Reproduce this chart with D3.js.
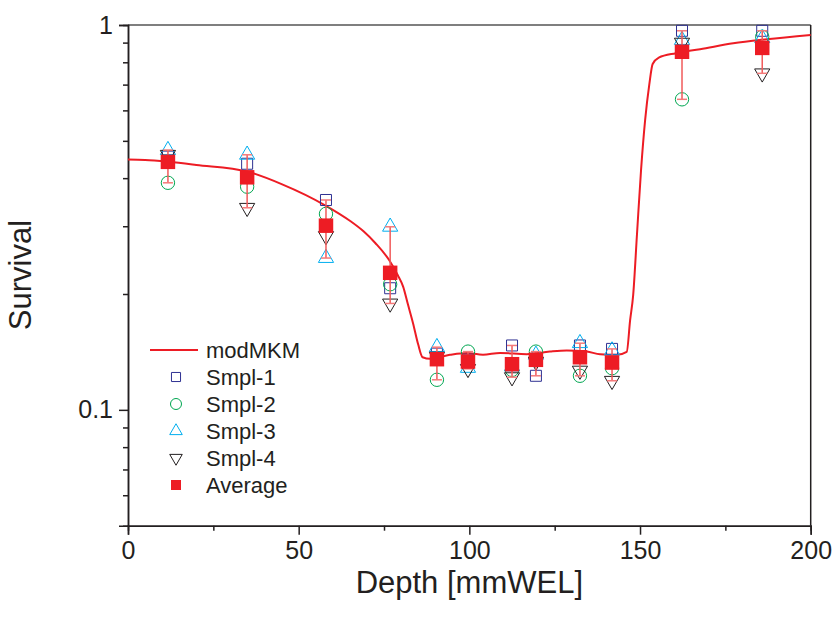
<!DOCTYPE html>
<html>
<head>
<meta charset="utf-8">
<script src="https://cdn.jsdelivr.net/npm/d3@7"></script>
<style>
  body { margin: 0; background: #fff; }
  text { font-family: "Liberation Sans", Arial, sans-serif; fill: #231f20; }
</style>
</head>
<body>
<div id="chart-area"></div>
<script>
var depth   = [11.7, 34.9, 58, 76.8, 90.5, 99.6, 112.5, 119.5, 132.4, 141.8, 162.3, 185.8];
var smpl1   = [0.455, 0.436, 0.351, 0.207, 0.140, 0.135, 0.147, 0.1226, 0.147, 0.144, 0.966, 0.966];
var smpl2   = [0.389, 0.380, 0.323, 0.212, 0.1197, 0.1417, 0.127, 0.1417, 0.1226, 0.1283, 0.641, 0.932];
var smpl3   = [0.473, 0.460, 0.248, 0.299, 0.1455, 0.1285, 0.1296, 0.139, 0.149, 0.1426, 0.914, 0.924];
var smpl4   = [0.460, 0.335, 0.283, 0.189, 0.1375, 0.1278, 0.1216, 0.1335, 0.1265, 0.119, 0.900, 0.749];
var average = [0.441, 0.402, 0.301, 0.227, 0.1354, 0.1335, 0.1314, 0.1349, 0.137, 0.1327, 0.852, 0.872];

// modMKM model curve
var modDepth = [0, 5, 12, 20, 35, 45, 58, 65, 69, 72.5, 76.5, 79, 80.6, 82, 83.5, 85, 86.3, 88.5, 94.3, 99.2,
	104, 109, 116.8, 123.6, 128.5, 134.4, 138.3, 143.2, 146.1, 147.1, 148, 149.1, 150.3, 151.5, 152.7,
	153.7, 155.5, 160.5, 167.6, 177.3, 187.1, 200];
var modSurv = [0.447, 0.446, 0.441, 0.433, 0.416, 0.386, 0.339, 0.31, 0.291, 0.271, 0.245, 0.224, 0.209, 0.188,
	0.168, 0.148, 0.137, 0.1357, 0.139, 0.1406, 0.139, 0.1406, 0.1395, 0.1417, 0.1426, 0.1417, 0.1395,
	0.139, 0.1415, 0.171, 0.199, 0.285, 0.42, 0.567, 0.699, 0.792, 0.823, 0.845, 0.865, 0.896, 0.918, 0.942];

var xMajor = [0, 50, 100, 150, 200];
var xMinor = [25, 75, 125, 175];
var yMajor = [1, 0.1];
var yMinor = [0.9, 0.8, 0.7, 0.6, 0.5, 0.4, 0.3, 0.2, 0.09, 0.08, 0.07, 0.06];

var margin = {left:128, right:23.3, top:25, bottom:93.3};
var width = 834 - margin.left - margin.right;
var height = 619 - margin.top - margin.bottom;

var svg = d3.select("#chart-area")
	.append("svg")
		.attr("width", 834)
		.attr("height", 619);

var g = svg.append("g")
	.attr("transform", "translate(" + margin.left + "," + margin.top + ")");

var x = d3.scaleLinear()
	.domain([0, 200])
	.range([0, width]);

var y = d3.scaleLog()
	.domain([0.05, 1])
	.range([height, 0]);

// frame: top and right
g.append("line")
	.attr("x1", 0).attr("x2", width)
	.attr("y1", 0).attr("y2", 0)
	.attr("stroke", "#555").attr("stroke-width", 1.5);
g.append("line")
	.attr("x1", width).attr("x2", width)
	.attr("y1", 0).attr("y2", height)
	.attr("stroke", "#231f20").attr("stroke-width", 1.5);

// axes
var xAxisCall = d3.axisBottom(x).tickValues(xMajor).tickSize(9).tickPadding(7);
var xAxis = g.append("g")
	.attr("class", "x axis")
	.attr("transform", "translate(0," + height + ")")
	.call(xAxisCall);

var xMinorCall = d3.axisBottom(x).tickValues(xMinor).tickSize(5).tickFormat("");
g.append("g")
	.attr("class", "x minor")
	.attr("transform", "translate(0," + height + ")")
	.call(xMinorCall);

var yAxisCall = d3.axisLeft(y).tickValues(yMajor).tickSize(9).tickPadding(6)
	.tickFormat(function(d){ return d == 1 ? "1" : "0.1"; });
var yAxis = g.append("g")
	.attr("class", "y axis")
	.call(yAxisCall);

var yMinorCall = d3.axisLeft(y).tickValues(yMinor).tickSize(5).tickFormat("");
g.append("g")
	.attr("class", "y minor")
	.call(yMinorCall);

g.selectAll(".axis path, .minor path")
	.attr("stroke", "#231f20").attr("stroke-width", 1.5);
g.selectAll(".axis line, .minor line")
	.attr("stroke", "#231f20").attr("stroke-width", 1.5);
g.selectAll(".axis text")
	.attr("font-size", "25px")
	.attr("font-family", "'Liberation Sans', Arial, sans-serif")
	.attr("fill", "#231f20");

// axis titles
g.append("text")
	.attr("x", width / 2)
	.attr("y", height + 67)
	.attr("font-size", "31px")
	.attr("text-anchor", "middle")
	.text("Depth [mmWEL]");

g.append("text")
	.attr("x", -(275 - margin.top))
	.attr("y", -97)
	.attr("font-size", "31px")
	.attr("text-anchor", "middle")
	.attr("transform", "rotate(-90)")
	.text("Survival");

// model curve
var line = d3.line()
	.x(function(d, i){ return x(modDepth[i]); })
	.y(function(d){ return y(d); })
	.curve(d3.curveMonotoneX);

g.append("path")
	.datum(modSurv)
	.attr("d", line)
	.attr("fill", "none")
	.attr("stroke", "#ed1c24")
	.attr("stroke-width", 2);

// sample markers
var series = [
	{name:"Smpl-1", values:smpl1, type:d3.symbolSquare,   size:121, rot:0,   color:"#2e3192"},
	{name:"Smpl-2", values:smpl2, type:d3.symbolCircle,   size:140, rot:0,   color:"#00a651"},
	{name:"Smpl-3", values:smpl3, type:d3.symbolTriangle, size:100, rot:0,   color:"#00aeef"},
	{name:"Smpl-4", values:smpl4, type:d3.symbolTriangle, size:100, rot:180, color:"#231f20"}
];

series.forEach(function(s){
	g.selectAll(null)
		.data(s.values)
		.enter()
		.append("path")
			.attr("d", d3.symbol().type(s.type).size(s.size))
			.attr("transform", function(d, i){
				return "translate(" + x(depth[i]) + "," + y(d) + ") rotate(" + s.rot + ")";
			})
			.attr("fill", "none")
			.attr("stroke", s.color)
			.attr("stroke-width", 1);
});

// spread bars (min to max of the four samples)
var spread = depth.map(function(d, i){
	return d3.extent([smpl1[i], smpl2[i], smpl3[i], smpl4[i]]);
});

var bars = g.selectAll(".bar")
	.data(spread)
	.enter()
	.append("g")
		.attr("class", "bar")
		.attr("transform", function(d, i){ return "translate(" + x(depth[i]) + ",0)"; });

bars.append("line")
	.attr("y1", function(d){ return y(d[0]); })
	.attr("y2", function(d){ return y(d[1]); })
	.attr("stroke", "#f15a5a").attr("stroke-width", 1.5);
bars.append("line")
	.attr("x1", -5).attr("x2", 5)
	.attr("y1", function(d){ return y(d[0]); })
	.attr("y2", function(d){ return y(d[0]); })
	.attr("stroke", "#f47a7a").attr("stroke-width", 1.5);
bars.append("line")
	.attr("x1", -5).attr("x2", 5)
	.attr("y1", function(d){ return y(d[1]); })
	.attr("y2", function(d){ return y(d[1]); })
	.attr("stroke", "#f47a7a").attr("stroke-width", 1.5);

// averages
g.selectAll(".avg")
	.data(average)
	.enter()
	.append("path")
		.attr("class", "avg")
		.attr("d", d3.symbol().type(d3.symbolSquare).size(210))
		.attr("transform", function(d, i){ return "translate(" + x(depth[i]) + "," + y(d) + ")"; })
		.attr("fill", "#ed1c24");

// legend
var legend = svg.append("g")
	.attr("transform", "translate(150,350)");

legend.append("line")
	.attr("x1", 0).attr("x2", 48)
	.attr("y1", 0).attr("y2", 0)
	.attr("stroke", "#ed1c24").attr("stroke-width", 2);
legend.append("text")
	.attr("x", 56).attr("y", 0).attr("dy", "0.36em")
	.attr("font-size", "22px")
	.text("modMKM");

var legItems = series.map(function(s){
	return {name:s.name, type:s.type, rot:s.rot, color:s.color, fill:"none", size:s.size * 0.68};
});
legItems.push({name:"Average", type:d3.symbolSquare, rot:0, color:"none", fill:"#ed1c24", size:100});

legItems.forEach(function(s, i){
	var yy = (i + 1) * 27;
	legend.append("path")
		.attr("d", d3.symbol().type(s.type).size(s.size))
		.attr("transform", "translate(26," + yy + ") rotate(" + s.rot + ")")
		.attr("fill", s.fill)
		.attr("stroke", s.color)
		.attr("stroke-width", 1);
	legend.append("text")
		.attr("x", 56).attr("y", yy).attr("dy", "0.36em")
		.attr("font-size", "22px")
		.text(s.name);
});
</script>
</body>
</html>
